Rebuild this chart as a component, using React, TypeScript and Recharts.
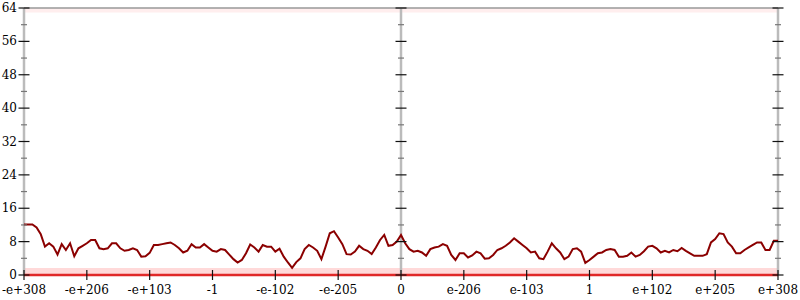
import { LineChart, Line, XAxis, YAxis, ReferenceLine, ReferenceArea } from "recharts";

// x tick labels, one every 15 samples
const tickLabels = [
  "-e+308", "-e+206", "-e+103", "-1", "-e-102", "-e-205", "0",
  "e-206", "e-103", "1", "e+102", "e+205", "e+308",
];

// sampled line values, left to right
const values = [
  12.1, 12.1, 12.1, 11.4, 9.8, 6.8, 7.6, 6.8, 4.9, 7.4, 6.0, 7.6, 4.5, 6.4, 7.0,
  7.6, 8.4, 8.4, 6.4, 6.2, 6.4, 7.6, 7.6, 6.4, 5.8, 6.0, 6.4, 6.0, 4.4, 4.5,
  5.3, 7.2, 7.2, 7.4, 7.6, 7.8, 7.2, 6.4, 5.4, 5.8, 7.4, 6.6, 6.6, 7.4, 6.6,
  5.8, 5.6, 6.2, 6.0, 4.9, 3.8, 3.0, 3.6, 5.2, 7.3, 6.6, 5.6, 7.2, 6.8, 6.8,
  5.6, 6.3, 4.4, 3.0, 1.7, 3.1, 4.0, 6.2, 7.2, 6.6, 5.8, 3.8, 6.8, 10.0, 10.5,
  9.0, 7.4, 5.0, 4.9, 5.6, 7.0, 6.2, 5.8, 5.0, 6.6, 8.4, 9.6, 7.0, 7.2, 8.0,
  9.6, 7.6, 6.2, 5.6, 5.8, 5.4, 4.6, 6.2, 6.6, 6.8, 7.4, 7.0, 4.8, 3.6, 5.2,
  5.2, 4.2, 4.7, 5.6, 5.2, 3.9, 4.0, 4.8, 6.0, 6.4, 7.0, 7.8, 8.8, 8.0, 7.2,
  6.4, 5.4, 5.6, 4.0, 3.8, 5.6, 7.6, 6.4, 5.4, 3.8, 4.4, 6.2, 6.4, 5.6, 2.9,
  3.6, 4.4, 5.2, 5.4, 6.0, 6.2, 6.0, 4.4, 4.4, 4.6, 5.4, 4.4, 4.8, 5.7, 6.8,
  7.0, 6.4, 5.4, 5.8, 5.4, 6.0, 5.7, 6.5, 5.8, 5.2, 4.6, 4.6, 4.6, 5.0, 7.8,
  8.6, 10.0, 9.8, 7.8, 6.8, 5.2, 5.2, 6.0, 6.6, 7.2, 7.8, 7.8, 6.0, 6.0, 8.2, 8.2,
];

const yTicks = [0, 4, 8, 12, 16, 20, 24, 28, 32, 36, 40, 44, 48, 52, 56, 60, 64];

const STEP = 15;
const data = values.map((v, i) => ({ x: i, v }));
const xTicks = tickLabels.map((_, i) => i * STEP);
const lastX = values.length - 1;

const W = 800;
const H = 300;
const Y_AXIS_W = 24;
const X_AXIS_H = 25;
const margin = { top: 8, right: 22, bottom: 0, left: 0 };
const plotLeft = margin.left + Y_AXIS_W;
const plotRight = W - margin.right;
const plotMid = (plotLeft + plotRight) / 2;
const plotBottom = H - margin.bottom - X_AXIS_H;

const FONT = "'DejaVu Serif', serif";

const YTick = ({ y, payload }: any) => {
  const major = payload.value % 8 === 0;
  const half = major ? 5.5 : 3;
  const stroke = major ? "#111" : "#777";
  return (
    <g>
      {[plotLeft, plotMid, plotRight].map((ax) => (
        <line key={ax} x1={ax - half} x2={ax + half} y1={y} y2={y} stroke={stroke} strokeWidth={1.2} />
      ))}
      {major && (
        <text
          x={plotLeft - 7}
          y={y}
          textAnchor="end"
          dominantBaseline="central"
          fontFamily={FONT}
          fontSize={12}
          fill="#000"
        >
          {payload.value}
        </text>
      )}
    </g>
  );
};

const XTick = ({ x, payload }: any) => (
  <g>
    <line x1={x} x2={x} y1={plotBottom - 5} y2={plotBottom + 5} stroke="#111" strokeWidth={1.2} />
    <text
      x={x}
      y={plotBottom + 15}
      textAnchor="middle"
      dominantBaseline="central"
      fontFamily={FONT}
      fontSize={12}
      fill="#000"
    >
      {tickLabels[payload.value / STEP]}
    </text>
  </g>
);

export default function App() {
  return (
    <div>
      <style>{"body{margin:0}"}</style>
      <LineChart width={W} height={H} data={data} margin={margin}>
        <ReferenceArea y1={0} y2={1.7} fill="#ff2020" fillOpacity={0.17} stroke="none" />
        <ReferenceArea y1={62.9} y2={64} fill="#ff2020" fillOpacity={0.08} stroke="none" />
        <ReferenceLine x={0} stroke="#bbb" strokeWidth={2.5} />
        <ReferenceLine x={lastX / 2} stroke="#bbb" strokeWidth={2.5} />
        <ReferenceLine x={lastX} stroke="#bbb" strokeWidth={2.5} />
        <ReferenceLine y={64} stroke="#999" strokeWidth={1.5} />
        <ReferenceLine y={0} stroke="#e02828" strokeWidth={2.5} />
        <XAxis
          dataKey="x"
          type="number"
          domain={[0, lastX]}
          ticks={xTicks}
          height={X_AXIS_H}
          axisLine={false}
          tickLine={false}
          tick={<XTick />}
          interval={0}
        />
        <YAxis
          domain={[0, 64]}
          ticks={yTicks}
          width={Y_AXIS_W}
          axisLine={false}
          tickLine={false}
          tick={<YTick />}
          interval={0}
        />
        <Line
          type="linear"
          dataKey="v"
          stroke="#8b0000"
          strokeWidth={2}
          dot={false}
          isAnimationActive={false}
        />
      </LineChart>
    </div>
  );
}
